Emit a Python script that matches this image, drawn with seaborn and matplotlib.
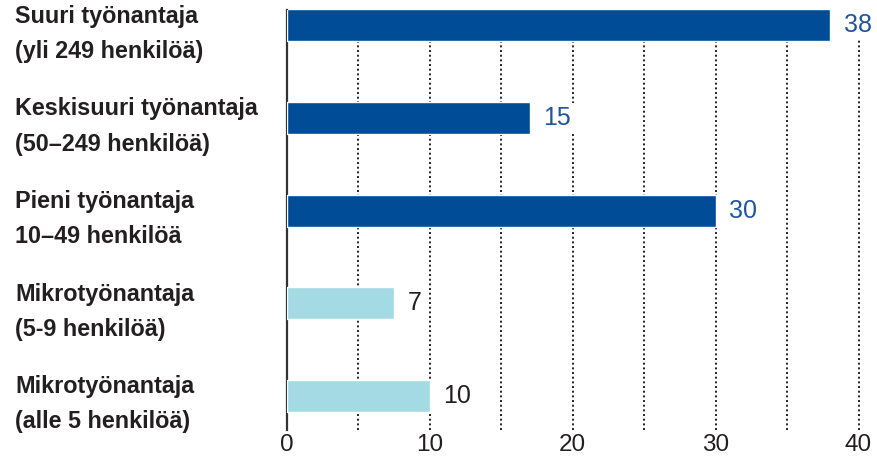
import matplotlib
matplotlib.use("Agg")
import matplotlib.pyplot as plt
import seaborn as sns

categories = [
    "Suuri työnantaja\n(yli 249 henkilöä)",
    "Keskisuuri työnantaja\n(50–249 henkilöä)",
    "Pieni työnantaja\n10–49 henkilöä",
    "Mikrotyönantaja\n(5-9 henkilöä)",
    "Mikrotyönantaja\n(alle 5 henkilöä)",
]
bar_values = [38, 17, 30, 7.5, 10]
value_labels = ["38", "15", "30", "7", "10"]
bar_colors = ["#004C97", "#004C97", "#004C97", "#A3DAE4", "#A3DAE4"]
label_colors = ["#1F55A0", "#1F55A0", "#1F55A0", "#231F20", "#231F20"]
x_ticks = [0, 10, 20, 30, 40]

sns.set_theme(style="white")
plt.rcParams["font.family"] = ["Liberation Sans", "DejaVu Sans"]

fig = plt.figure(figsize=(8.78, 4.57), dpi=100)
W, H = 878, 457
x0, x1 = 286.7, 858.5
ytop, ybot = 10, 430
ax = fig.add_axes([x0 / W, 1 - ybot / H, (x1 - x0) / W, (ybot - ytop) / H])

sns.barplot(x=bar_values, y=categories, hue=categories, palette=bar_colors,
            orient="h", width=0.345, legend=False, ax=ax, saturation=1,
            zorder=2)

ax.set_xlim(0, 40)
ax.set_ylim(4.37, -0.166)
ax.set_xticks(x_ticks)
ax.grid(False)
ax.set_axisbelow(True)
for v in range(5, 41, 5):
    ax.axvline(v, color="#222222", linestyle=(0, (1, 1.4)), linewidth=1.4, zorder=0,
               clip_on=False)

for s in ["top", "right", "bottom"]:
    ax.spines[s].set_visible(False)
ax.spines["left"].set_color("#333333")
ax.spines["left"].set_linewidth(1.6)
ax.spines["left"].set_zorder(1)

ax.tick_params(axis="x", which="both", length=0, pad=3, labelsize=17.5,
               labelcolor="#231F20")
ax.tick_params(axis="y", length=0, pad=(x0 - 15) * 72 / 100, labelsize=16.8,
               labelcolor="#231F20")
ax.set_yticks(range(len(categories)))
ax.set_yticklabels(categories, fontweight="bold", linespacing=1.68)
for lbl in ax.get_yticklabels():
    lbl.set_horizontalalignment("left")

for i, (v, t, c) in enumerate(zip(bar_values, value_labels, label_colors)):
    ax.annotate(t, xy=(v, i), xytext=(10, 0), textcoords="offset points",
                ha="left", va="center", fontsize=18, color=c, zorder=3,
                bbox=dict(facecolor="white", edgecolor="none", pad=2))

ax.set_xlabel("")
ax.set_ylabel("")
fig.savefig("out.png", dpi=100)
